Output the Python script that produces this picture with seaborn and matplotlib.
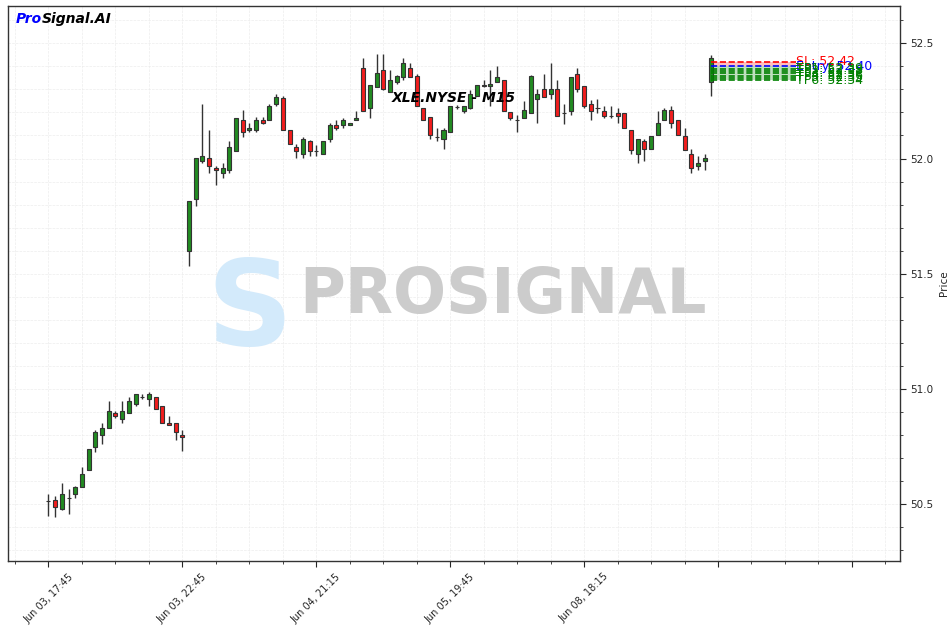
import numpy as np
import pandas as pd
import matplotlib
matplotlib.use("Agg")
import matplotlib.pyplot as plt
import matplotlib.ticker as mticker
import seaborn as sns

# XLE.NYSE M15 candles
opens = [50.512, 50.520, 50.477, 50.527, 50.542, 50.573, 50.647, 50.747, 50.799, 50.829,
         50.894, 50.871, 50.894, 50.933, 50.965, 50.955, 50.964, 50.925, 50.851, 50.851,
         50.799, 51.597, 51.825, 51.988, 52.003, 51.960, 51.938, 51.951, 52.032, 52.168,
         52.123, 52.125, 52.168, 52.168, 52.238, 52.261, 52.125, 52.051, 52.020, 52.074,
         52.033, 52.020, 52.083, 52.146, 52.146, 52.146, 52.168, 52.394, 52.219, 52.310,
         52.386, 52.288, 52.332, 52.353, 52.394, 52.357, 52.220, 52.180, 52.093, 52.086,
         52.114, 52.223, 52.206, 52.219, 52.270, 52.320, 52.313, 52.332, 52.342, 52.201,
         52.168, 52.177, 52.199, 52.258, 52.303, 52.281, 52.303, 52.199, 52.206, 52.365,
         52.313, 52.238, 52.220, 52.206, 52.186, 52.199, 52.199, 52.125, 52.020, 52.074,
         52.042, 52.103, 52.168, 52.209, 52.168, 52.096, 52.020, 51.967, 51.991, 52.332]
highs = [50.542, 50.535, 50.593, 50.564, 50.578, 50.662, 50.738, 50.820, 50.851, 50.947,
         50.904, 50.947, 50.965, 50.977, 50.977, 50.987, 50.964, 50.925, 50.881, 50.851,
         50.820, 51.817, 52.003, 52.238, 52.125, 51.967, 51.981, 52.074, 52.177, 52.209,
         52.155, 52.180, 52.180, 52.235, 52.281, 52.270, 52.125, 52.064, 52.093, 52.081,
         52.057, 52.074, 52.155, 52.168, 52.177, 52.155, 52.207, 52.438, 52.320, 52.455,
         52.455, 52.386, 52.364, 52.438, 52.416, 52.368, 52.220, 52.180, 52.132, 52.132,
         52.230, 52.233, 52.229, 52.296, 52.320, 52.342, 52.383, 52.403, 52.342, 52.201,
         52.187, 52.249, 52.364, 52.303, 52.368, 52.416, 52.342, 52.238, 52.353, 52.394,
         52.313, 52.252, 52.260, 52.230, 52.230, 52.220, 52.199, 52.125, 52.086, 52.086,
         52.096, 52.206, 52.220, 52.230, 52.168, 52.133, 52.042, 52.010, 52.020, 52.448]
lows = [50.448, 50.445, 50.475, 50.459, 50.527, 50.573, 50.647, 50.727, 50.760, 50.829,
        50.873, 50.851, 50.894, 50.925, 50.955, 50.925, 50.912, 50.851, 50.842, 50.780,
        50.729, 51.535, 51.793, 51.980, 51.938, 51.886, 51.916, 51.938, 52.032, 52.093,
        52.116, 52.114, 52.148, 52.168, 52.229, 52.125, 52.064, 52.003, 52.003, 52.012,
        52.012, 52.020, 52.071, 52.125, 52.133, 52.146, 52.165, 52.206, 52.177, 52.310,
        52.296, 52.288, 52.325, 52.342, 52.353, 52.227, 52.167, 52.086, 52.078, 52.042,
        52.114, 52.216, 52.197, 52.216, 52.270, 52.310, 52.230, 52.332, 52.206, 52.165,
        52.114, 52.177, 52.199, 52.155, 52.267, 52.260, 52.184, 52.148, 52.187, 52.288,
        52.220, 52.168, 52.199, 52.177, 52.177, 52.155, 52.133, 52.020, 51.981, 51.991,
        52.042, 52.103, 52.168, 52.133, 52.103, 52.035, 51.938, 51.948, 51.952, 52.270]
closes = [50.512, 50.488, 50.542, 50.527, 50.573, 50.633, 50.738, 50.813, 50.829, 50.903,
          50.881, 50.903, 50.947, 50.977, 50.965, 50.977, 50.912, 50.851, 50.842, 50.812,
          50.790, 51.817, 52.003, 52.012, 51.967, 51.951, 51.960, 52.052, 52.177, 52.114,
          52.133, 52.168, 52.155, 52.229, 52.268, 52.125, 52.064, 52.033, 52.086, 52.033,
          52.033, 52.074, 52.146, 52.133, 52.168, 52.155, 52.177, 52.206, 52.320, 52.373,
          52.303, 52.342, 52.357, 52.416, 52.353, 52.227, 52.167, 52.103, 52.093, 52.125,
          52.230, 52.223, 52.229, 52.281, 52.320, 52.313, 52.322, 52.355, 52.206, 52.175,
          52.168, 52.209, 52.357, 52.281, 52.267, 52.303, 52.184, 52.199, 52.353, 52.303,
          52.227, 52.206, 52.220, 52.186, 52.186, 52.184, 52.133, 52.035, 52.086, 52.042,
          52.096, 52.155, 52.209, 52.155, 52.103, 52.035, 51.960, 51.981, 52.003, 52.438]

tick_pos = [0, 20, 40, 60, 80, 100, 120]
tick_labels = ["Jun 03, 17:45", "Jun 03, 22:45", "Jun 04, 21:15",
               "Jun 05, 19:45", "Jun 08, 18:15", "", ""]

sl_price = 52.42
entry_price = 52.40
tp_prices = [52.39, 52.38, 52.37, 52.36, 52.35, 52.34]

df = pd.DataFrame({"open": opens, "high": highs, "low": lows, "close": closes})
df["idx"] = np.arange(len(df))
df["up"] = df["close"] >= df["open"]

sns.set_theme(style="ticks")
plt.rcParams["font.family"] = ["DejaVu Sans"]

fig = plt.figure(figsize=(9.5, 6.29), dpi=100)
ax = fig.add_axes([0.0084, 0.108, 0.9391, 0.8825])

# candles
ax.vlines(df["idx"], df["low"], df["high"], color="#333333", lw=1.0, zorder=2)
body_bottom = df[["open", "close"]].min(axis=1)
body_height = (df["close"] - df["open"]).abs()
colors = np.where(df["up"], "#228b22", "#f21d1d")
ax.bar(df["idx"], body_height, bottom=body_bottom, width=0.6, color=colors,
       edgecolor="#333333", linewidth=0.8, zorder=3)

# trade levels
x0 = df["idx"].iloc[-1]
x1 = x0 + 12.6
ax.fill_between([x0, x1], entry_price, sl_price, color="red", alpha=0.25, lw=0, zorder=1)
ax.fill_between([x0, x1], min(tp_prices), entry_price, color="green", alpha=0.25, lw=0, zorder=1)
ax.hlines(sl_price, x0, x1, color="red", ls="--", lw=1.2, zorder=4)
ax.text(x1 + 0.1, sl_price, f"SL: {sl_price:.2f}", color="red", fontsize=9, va="center")
ax.hlines(entry_price, x0, x1, color="blue", ls="--", lw=1.2, zorder=4)
ax.text(x1 + 0.1, entry_price, f"Entry: {entry_price:.2f}", color="blue", fontsize=9, va="center")
for i, tp in enumerate(tp_prices):
    ax.hlines(tp, x0, x1, color="green", ls="--", lw=1.2, zorder=4)
    ax.text(x1 + 0.1, tp, f"TP{i + 1}: {tp:.2f}", color="green", fontsize=9, va="center")

# axes
ax.set_xlim(-6.05, 127.2)
ax.set_ylim(50.253, 52.662)
ax.xaxis.set_major_locator(mticker.FixedLocator(tick_pos))
ax.xaxis.set_major_formatter(mticker.FixedFormatter(tick_labels))
ax.xaxis.set_minor_locator(mticker.MultipleLocator(5))
ax.yaxis.set_major_locator(mticker.MultipleLocator(0.5))
ax.yaxis.set_minor_locator(mticker.MultipleLocator(0.1))
ax.yaxis.set_major_formatter(mticker.FormatStrFormatter("%.1f"))
ax.yaxis.tick_right()
ax.yaxis.set_label_position("right")
ax.set_ylabel("Price", fontsize=7.5)
ax.tick_params(axis="x", which="major", labelsize=7, rotation=45, length=4, width=0.8)
ax.tick_params(axis="y", which="major", labelsize=7.5, length=4, width=0.8)
ax.tick_params(which="minor", length=2.5, width=0.6)
ax.grid(True, which="both", ls="--", lw=0.5, color="#e8e8e8", alpha=0.8)
ax.set_axisbelow(True)
for s in ax.spines.values():
    s.set_color("#333333")
    s.set_linewidth(1.0)

# title inside the axes
ax.text(0.5, 0.8276, "XLE.NYSE - M15", transform=ax.transAxes, ha="center", va="baseline",
        fontsize=10, fontweight="bold", fontstyle="italic", color="black", zorder=6)

# watermark
fig.text(0.263, 0.4515, "S", fontsize=86, fontweight="bold", color="#d3eafb",
         ha="center", va="baseline", zorder=0)
fig.text(0.5295, 0.5024, "PROSIGNAL", fontsize=45, fontweight="bold", color="#cccccc",
         ha="center", va="baseline", zorder=0)

# brand
t = fig.text(16 / 950, 1 - 23 / 629, "Pro", fontsize=10, fontweight="bold",
             fontstyle="italic", color="blue", va="baseline")
ax.annotate("Signal.AI", xy=(1, 0), xycoords=t, xytext=(0, 0), textcoords="offset points",
            fontsize=10, fontweight="bold", fontstyle="italic", color="black",
            va="bottom", ha="left", annotation_clip=False)

fig.savefig("out.png", dpi=100)
